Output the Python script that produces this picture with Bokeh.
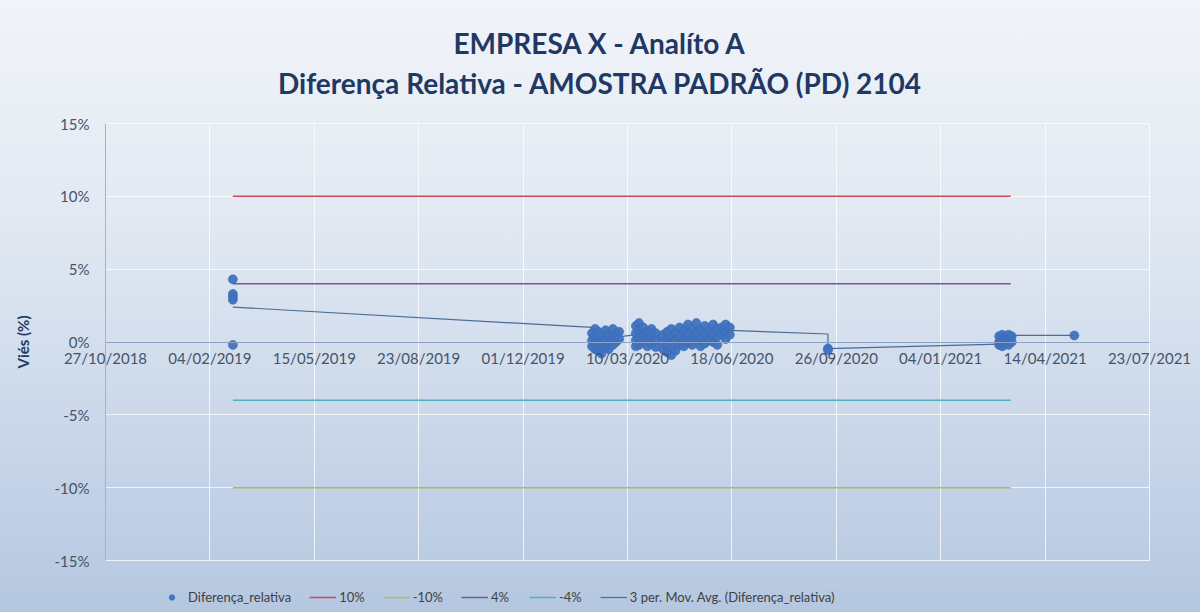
import pandas as pd
from bokeh.plotting import figure
from bokeh.models import (ColumnDataSource, Range1d, FixedTicker, DatetimeTickFormatter,
                          PrintfTickFormatter, Legend, LegendItem, Title)
from bokeh.embed import file_html
from bokeh.resources import INLINE

# ---------------- data ----------------
title_line1 = "EMPRESA X - Analíto A"
title_line2 = "Diferença Relativa - AMOSTRA PADRÃO (PD) 2104"
y_label = "Viés (%)"

x_tick_dates = ["2018-10-27", "2019-02-04", "2019-05-15", "2019-08-23", "2019-12-01",
                "2020-03-10", "2020-06-18", "2020-09-26", "2021-01-04", "2021-04-14",
                "2021-07-23"]
y_ticks = [-15, -10, -5, 0, 5, 10, 15]

# Diferença_relativa points (date, % value)
point_dates = (
    ["2019-02-26"] * 5
    + ["2020-02-05"] * 3 + ["2020-02-08"] * 4 + ["2020-02-11"] * 3 + ["2020-02-14"] * 3
    + ["2020-02-18"] * 3 + ["2020-02-21"] * 3 + ["2020-02-25"] * 3 + ["2020-02-28"] * 2
    + ["2020-03-02"] * 2
    + ["2020-03-18"] * 4 + ["2020-03-21"] * 4 + ["2020-03-25"] * 3 + ["2020-03-29"] * 3
    + ["2020-04-02"] * 3 + ["2020-04-06"] * 3
    + ["2020-04-13"] * 3 + ["2020-04-17"] * 4 + ["2020-04-21"] * 4 + ["2020-04-25"] * 3
    + ["2020-04-29"] * 3 + ["2020-05-03"] * 3 + ["2020-05-07"] * 3 + ["2020-05-11"] * 3
    + ["2020-05-15"] * 3 + ["2020-05-19"] * 3 + ["2020-05-23"] * 3 + ["2020-05-27"] * 2
    + ["2020-05-31"] * 3 + ["2020-06-04"] * 3 + ["2020-06-08"] * 2 + ["2020-06-12"] * 3
    + ["2020-06-16"] * 2
    + ["2020-09-18"] * 2
    + ["2021-03-01"] * 3 + ["2021-03-04"] * 3 + ["2021-03-07"] * 2 + ["2021-03-10"] * 3
    + ["2021-03-13"] * 2
    + ["2021-05-12"]
)
point_values = (
    [4.3, 3.3, 3.1, 2.9, -0.2]
    + [0.6, 0.1, -0.3] + [0.9, 0.3, -0.5, -0.1] + [0.7, 0.0, -0.6] + [0.4, -0.2, -0.8]
    + [0.8, 0.2, -0.4] + [0.5, -0.1, -0.5] + [0.9, 0.3, -0.2] + [0.6, 0.0]
    + [0.7, 0.2]
    + [1.1, 0.6, 0.1, -0.3] + [1.3, 0.8, 0.3, -0.2] + [1.0, 0.4, 0.0] + [0.7, 0.2, -0.3]
    + [0.9, 0.5, -0.1] + [0.6, 0.1, -0.35]
    + [0.5, 0.0, -0.5] + [0.7, 0.2, -0.3, -0.7] + [0.9, 0.3, -0.4, -0.9] + [0.6, 0.1, -0.6]
    + [1.0, 0.4, -0.2] + [0.8, 0.2, -0.3] + [1.2, 0.5, 0.0] + [0.9, 0.3, -0.2]
    + [1.3, 0.7, 0.1] + [0.8, 0.2, -0.3] + [1.1, 0.5, -0.1] + [0.7, 0.1]
    + [1.2, 0.6, 0.0] + [0.9, 0.4, -0.2] + [1.0, 0.5] + [1.2, 0.7, 0.2]
    + [1.0, 0.5]
    + [-0.45, -0.55]
    + [0.4, 0.0, -0.2] + [0.5, 0.1, -0.3] + [0.3, -0.1] + [0.5, 0.2, -0.2]
    + [0.4, 0.0]
    + [0.45]
)

# reference limit lines (drawn over the sampling period)
limit_dates = ["2019-02-26", "2021-03-12"]
limit_10 = [10, 10]
limit_m10 = [-10, -10]
limit_4 = [4, 4]
limit_m4 = [-4, -4]

# 3 per. moving average trendline
ma_dates = ["2019-02-26", "2020-02-05", "2020-02-14", "2020-02-25", "2020-03-18",
            "2020-04-02", "2020-04-17", "2020-05-07", "2020-05-27", "2020-06-16",
            "2020-09-18", "2020-09-18", "2021-03-01", "2021-03-07", "2021-03-13",
            "2021-05-12"]
ma_values = [2.4, 1.0, 0.2, 0.3, 0.5, 0.4, 0.1, 0.4, 0.5, 0.8,
             0.55, -0.45, -0.15, 0.1, 0.45, 0.45]

# ---------------- layout (pixels) ----------------
W, H = 1200, 612
L, R, T, B = 105, 1149, 123, 560      # plot-area box inside the figure
FRAME_TOP = 108                        # room above the plot area for the 15% label
y_min, y_max = y_ticks[0], y_ticks[-1]

start_ms = pd.Timestamp(x_tick_dates[0]).value / 1e6
end_ms = pd.Timestamp(x_tick_dates[-1]).value / 1e6
px_per_ms = (R - L) / (end_ms - start_ms)
px_per_unit = (B - T) / (y_max - y_min)

x_range = Range1d(start_ms - L / px_per_ms, end_ms + (W - R) / px_per_ms)
y_range = Range1d(y_min - (H - B) / px_per_unit, y_max + (T - FRAME_TOP) / px_per_unit)

p = figure(width=W, height=H, output_backend="svg", toolbar_location=None,
           x_axis_type="datetime", x_range=x_range, y_range=y_range,
           min_border_left=0, min_border_right=0, min_border_top=FRAME_TOP,
           min_border_bottom=0)

p.background_fill_color = None
p.border_fill_color = None
p.outline_line_color = None
p.styles = {"background": "linear-gradient(180deg, #f1f4f9 0%, #e2e9f2 35%, #cad7ea 70%, #b5c7e0 100%)"}

TXT = "#44546a"
NAVY = "#1f3864"
FONT = "Lato"

src = ColumnDataSource(dict(x=pd.to_datetime(point_dates), y=point_values))
lim = ColumnDataSource(dict(x=pd.to_datetime(limit_dates), a=limit_10, b=limit_m10,
                            c=limit_4, d=limit_m4))
ma = ColumnDataSource(dict(x=pd.to_datetime(ma_dates), y=ma_values))

r10 = p.line("x", "a", source=lim, line_color="#cf4a57", line_width=1.5)
rm10 = p.line("x", "b", source=lim, line_color="#a3c157", line_width=1.5)
r4 = p.line("x", "c", source=lim, line_color="#7a5a8e", line_width=1.5)
rm4 = p.line("x", "d", source=lim, line_color="#4eb1c0", line_width=1.5)
rma = p.line("x", "y", source=ma, line_color="#4a6c9a", line_width=1.2)
rpts = p.scatter("x", "y", source=src, size=9, fill_color="#3f72c0",
                 line_color="#3a6ab5", line_width=0.6, fill_alpha=0.95)

# axes
ticks_ms = [pd.Timestamp(d).value // 10**6 for d in x_tick_dates]
xa = p.xaxis[0]
xa.ticker = FixedTicker(ticks=ticks_ms)
fmt = "%d/%m/%Y"
xa.formatter = DatetimeTickFormatter(days=fmt, months=fmt, years=fmt, hours=fmt)
xa.fixed_location = 0
xa.bounds = (start_ms, end_ms)
xa.axis_line_color = "#8ea3c4"
xa.axis_line_width = 1.2
xa.major_tick_line_color = None
xa.minor_tick_line_color = None
xa.major_tick_out = 0
xa.major_tick_in = 0
xa.minor_tick_out = 0
xa.major_label_text_font = FONT
xa.major_label_text_font_size = "15px"
xa.major_label_text_color = TXT
xa.major_label_standoff = 7

ya = p.yaxis[0]
ya.ticker = FixedTicker(ticks=y_ticks)
ya.formatter = PrintfTickFormatter(format="%d%%")
ya.fixed_location = start_ms
ya.bounds = (y_min, y_max)
ya.axis_line_color = "#9fb4d2"
ya.major_tick_line_color = None
ya.minor_tick_line_color = None
ya.major_tick_out = 0
ya.major_tick_in = 0
ya.minor_tick_out = 0
ya.major_label_text_font = FONT
ya.major_label_text_font_size = "15px"
ya.major_label_text_color = TXT
ya.major_label_standoff = 16
ya.axis_label = y_label
ya.axis_label_text_font = FONT
ya.axis_label_text_font_style = "bold"
ya.axis_label_text_font_size = "15px"
ya.axis_label_text_color = NAVY
ya.axis_label_standoff = 20

p.xgrid.ticker = FixedTicker(ticks=ticks_ms)
p.xgrid.bounds = (start_ms, end_ms)
p.xgrid.cross_bounds = (y_min, y_max)
p.xgrid.grid_line_color = "#ffffff"
p.xgrid.grid_line_alpha = 0.75
p.ygrid.ticker = FixedTicker(ticks=y_ticks)
p.ygrid.bounds = (y_min, y_max)
p.ygrid.cross_bounds = (start_ms, end_ms)
p.ygrid.grid_line_color = "#ffffff"
p.ygrid.grid_line_alpha = 0.75

# titles (the added one sits nearer the plot)
p.title = Title(text=title_line1, align="center", text_font=FONT, text_font_style="bold",
                text_font_size="28px", text_color=NAVY, standoff=-10, offset=10)
p.add_layout(Title(text=title_line2, align="center", text_font=FONT, text_font_style="bold",
                   text_font_size="28px", text_color=NAVY, standoff=18, offset=10), "above")

legend = Legend(items=[
    LegendItem(label="Diferença_relativa", renderers=[rpts]),
    LegendItem(label="10%", renderers=[r10]),
    LegendItem(label="-10%", renderers=[rm10]),
    LegendItem(label="4%", renderers=[r4]),
    LegendItem(label="-4%", renderers=[rm4]),
    LegendItem(label="3 per. Mov. Avg. (Diferença_relativa)", renderers=[rma]),
], orientation="horizontal", location=(156, 5))
legend.label_text_font = FONT
legend.label_text_font_size = "13px"
legend.label_text_color = "#404040"
legend.background_fill_alpha = 0
legend.border_line_alpha = 0
legend.glyph_width = 27
legend.glyph_height = 14
legend.label_standoff = 3
legend.spacing = 18
legend.padding = 2
legend.margin = 0
p.add_layout(legend)

open("out.html", "w").write(file_html(p, INLINE))
